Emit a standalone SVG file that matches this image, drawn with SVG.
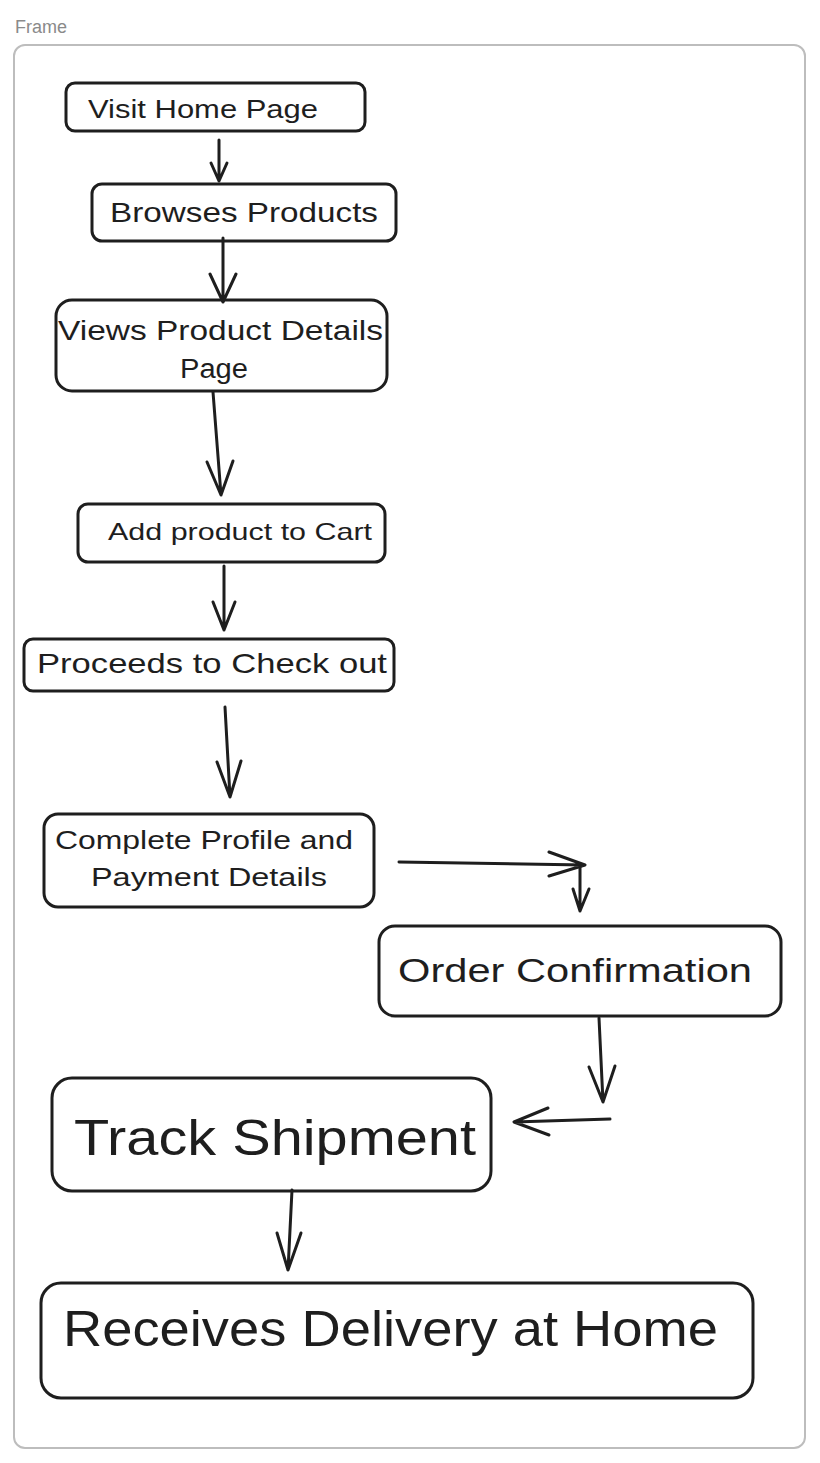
<svg xmlns="http://www.w3.org/2000/svg" width="820" height="1463" viewBox="0 0 820 1463">
<style>
.frame{fill:#fff;stroke:#bdbdbd;stroke-width:2}
.flabel{font-family:"Liberation Sans",Arial,sans-serif;font-size:18px;fill:#8a8a8a}
.box{fill:#fff;stroke:#1e1e1e;stroke-width:3;stroke-linejoin:round}
.t{font-family:"Liberation Sans",Arial,sans-serif;fill:#1e1e1e;text-anchor:start}
.c{fill:none;stroke:#1e1e1e;stroke-width:3;stroke-linecap:round;stroke-linejoin:round}
</style>
<rect width="820" height="1463" fill="#fff"/>
<text class="flabel" x="15" y="33">Frame</text>
<rect class="frame" x="14" y="45" width="791" height="1403" rx="11"/>

<g id="n1"><rect class="box" x="66" y="83" width="299" height="48" rx="9"/>
<text class="t" x="88" y="118" font-size="25" textLength="230" lengthAdjust="spacingAndGlyphs">Visit Home Page</text></g>

<g id="n2"><rect class="box" x="92" y="184" width="304" height="57" rx="10"/>
<text class="t" x="110" y="222" font-size="28" textLength="268" lengthAdjust="spacingAndGlyphs">Browses Products</text></g>

<g id="n3"><rect class="box" x="56" y="300" width="331" height="91" rx="16"/>
<text class="t" x="58" y="340" font-size="27" textLength="325" lengthAdjust="spacingAndGlyphs">Views Product Details</text>
<text class="t" x="180" y="378" font-size="27" textLength="68" lengthAdjust="spacingAndGlyphs">Page</text></g>

<g id="n4"><rect class="box" x="78" y="504" width="307" height="58" rx="10"/>
<text class="t" x="108" y="540" font-size="24" textLength="264" lengthAdjust="spacingAndGlyphs">Add product to Cart</text></g>

<g id="n5"><rect class="box" x="24" y="639" width="370" height="52" rx="9"/>
<text class="t" x="37" y="673" font-size="28" textLength="350" lengthAdjust="spacingAndGlyphs">Proceeds to Check out</text></g>

<g id="n6"><rect class="box" x="44" y="814" width="330" height="93" rx="14"/>
<text class="t" x="55" y="849" font-size="26" textLength="298" lengthAdjust="spacingAndGlyphs">Complete Profile and</text>
<text class="t" x="91" y="886" font-size="26" textLength="236" lengthAdjust="spacingAndGlyphs">Payment Details</text></g>

<g id="n7"><rect class="box" x="379" y="926" width="402" height="90" rx="16"/>
<text class="t" x="398" y="982" font-size="34" textLength="354" lengthAdjust="spacingAndGlyphs">Order Confirmation</text></g>

<g id="n8"><rect class="box" x="52" y="1078" width="439" height="113" rx="20"/>
<text class="t" x="74" y="1155" font-size="50" textLength="402" lengthAdjust="spacingAndGlyphs">Track Shipment</text></g>

<g id="n9"><rect class="box" x="41" y="1283" width="712" height="115" rx="20"/>
<text class="t" x="63" y="1346" font-size="50" textLength="655" lengthAdjust="spacingAndGlyphs">Receives Delivery at Home</text></g>

<g id="connectors">
<path class="c" d="M219 140 L219 181 M211 163 L219 181 L227 163"/>
<path class="c" d="M223 238 L223 302 M210 274 L223 302 L236 274"/>
<path class="c" d="M213 392 L221 495 M207 462 L221 495 L233 461"/>
<path class="c" d="M224 566 L224 630 M213 602 L224 630 L235 602"/>
<path class="c" d="M225 707 L230 797 M217 762 L230 797 L241 761"/>
<path class="c" d="M399 862 L585 865 M549 852 L585 865 L549 876"/>
<path class="c" d="M580 866 L580 911 M573 889 L580 911 L589 889"/>
<path class="c" d="M599 1018 L603 1102 M589 1067 L603 1102 L615 1066"/>
<path class="c" d="M610 1119 L514 1122 M548 1108 L514 1122 L549 1135"/>
<path class="c" d="M292 1190 L288 1270 M277 1233 L288 1270 L301 1233"/>
</g>
</svg>
